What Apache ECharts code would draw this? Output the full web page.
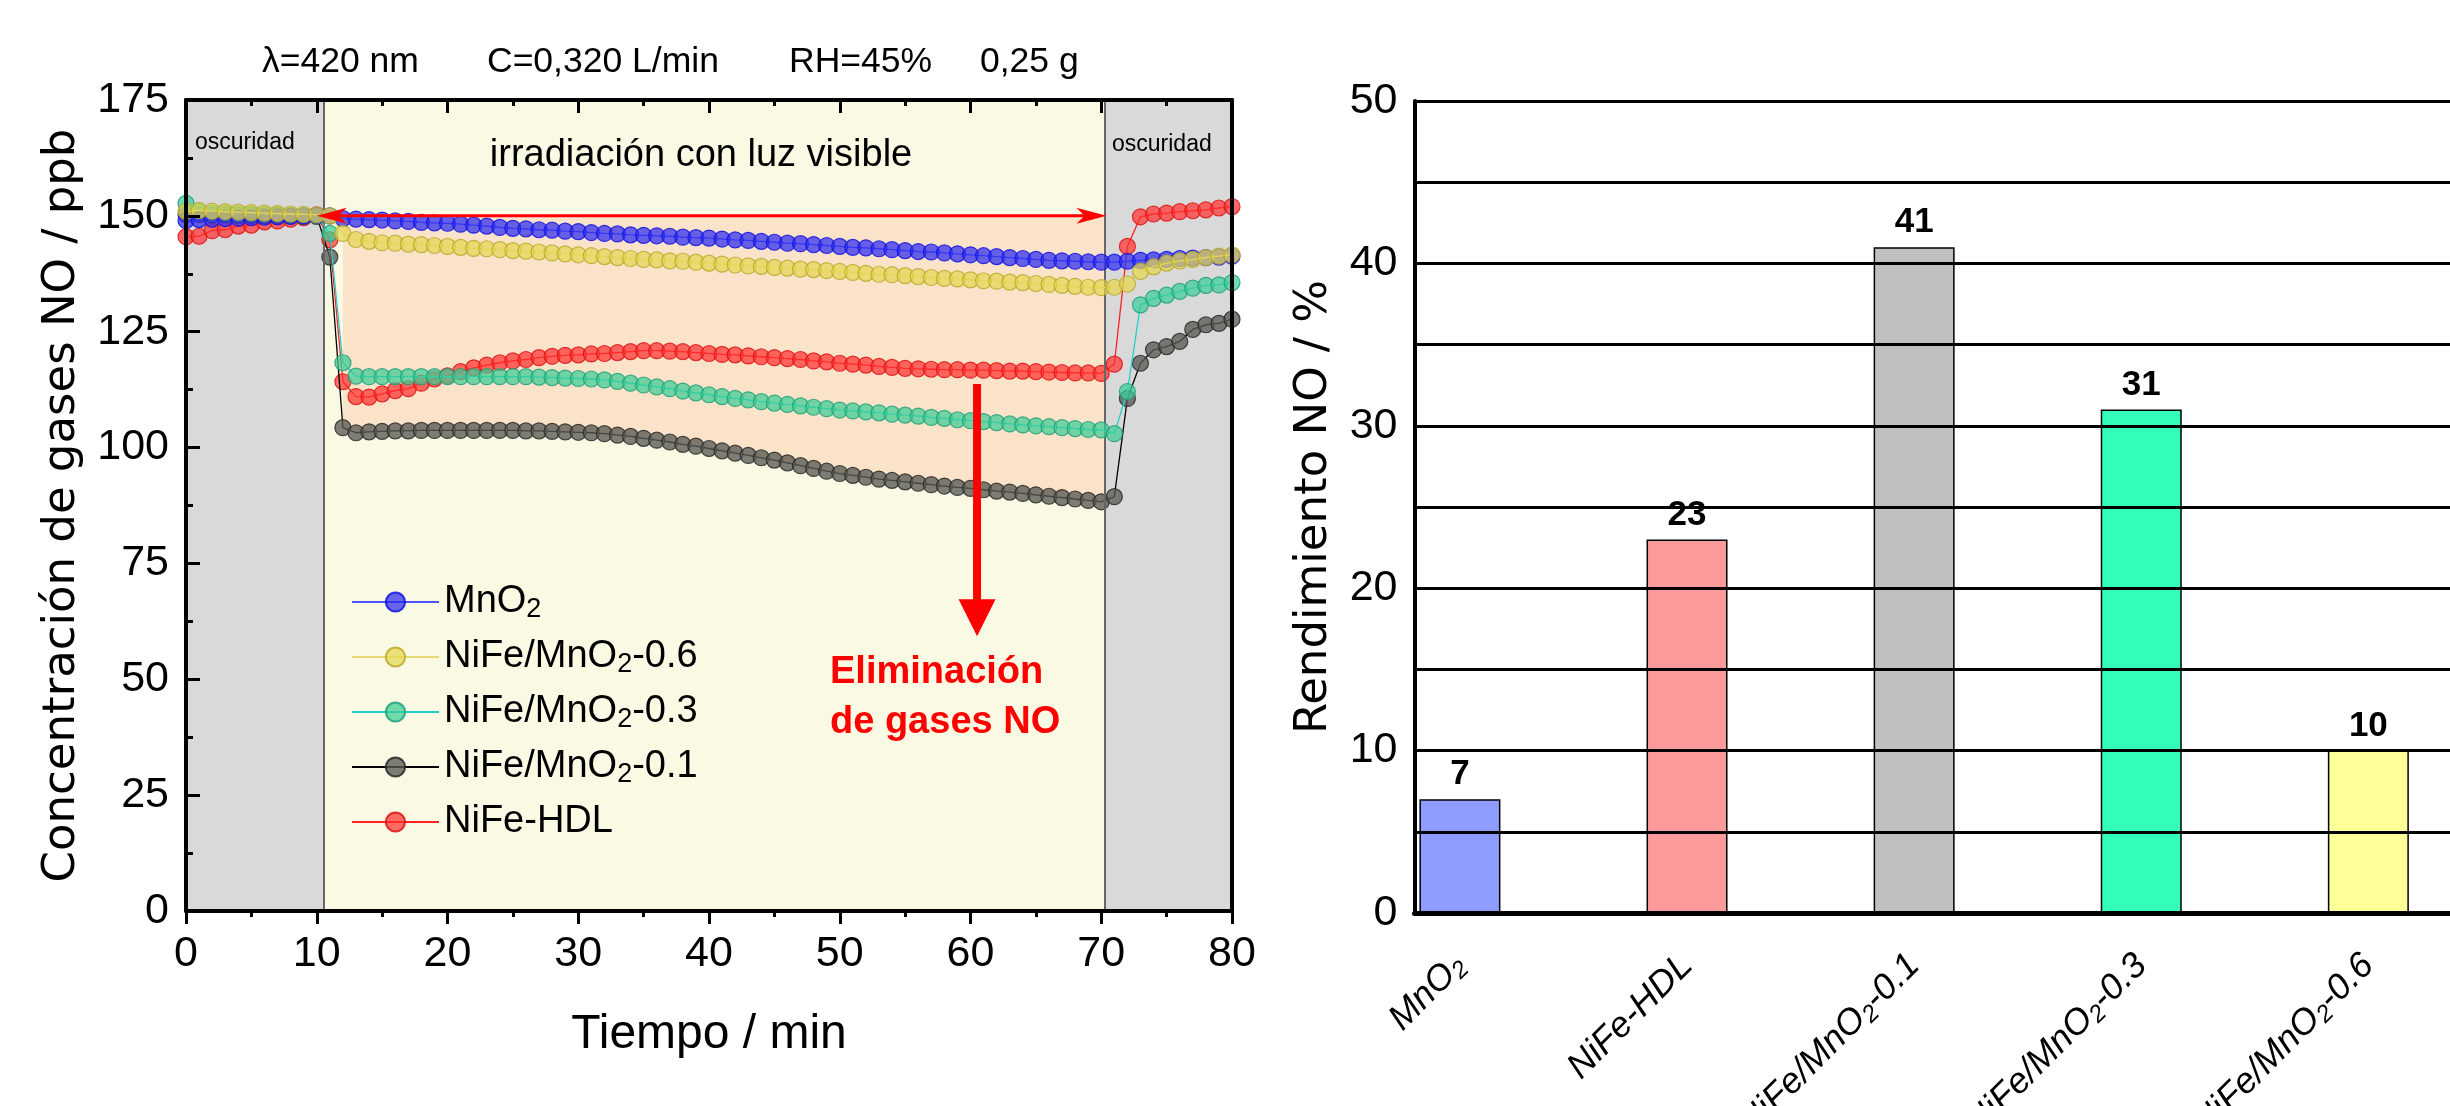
<!DOCTYPE html>
<html><head><meta charset="utf-8">
<script src="https://cdn.jsdelivr.net/npm/echarts@6/dist/echarts.min.js"></script>
<style>html,body{margin:0;padding:0;background:#fff}#c{width:2450px;height:1106px}</style>
</head><body><div id="c"></div>
<script>
// ---------- data ----------
const timeMin = [0,1,2,3,4,5,6,7,8,9,10,11,12,13,14,15,16,17,18,19,20,21,22,23,24,25,26,27,28,29,30,31,32,33,34,35,36,37,38,39,40,41,42,43,44,45,46,47,48,49,50,51,52,53,54,55,56,57,58,59,60,61,62,63,64,65,66,67,68,69,70,71,72,73,74,75,76,77,78,79,80];
const mno2 = [149.0,149.2,149.3,149.4,149.5,149.6,149.7,149.8,149.9,150.0,150.1,150.0,149.4,149.3,149.2,149.1,148.9,148.8,148.6,148.5,148.4,148.2,148.0,147.8,147.5,147.3,147.2,147.0,146.9,146.7,146.6,146.4,146.2,146.1,145.9,145.8,145.7,145.6,145.4,145.3,145.2,145.0,144.8,144.7,144.5,144.3,144.1,144.0,143.8,143.6,143.4,143.2,143.1,142.9,142.7,142.5,142.3,142.2,142.0,141.8,141.6,141.4,141.2,141.0,140.8,140.6,140.4,140.3,140.2,140.1,140.0,140.0,140.2,140.4,140.5,140.6,140.8,140.9,141.0,141.1,141.3];
const nife06 = [151.0,151.2,151.0,150.9,150.8,150.7,150.6,150.5,150.4,150.3,150.2,150.0,146.2,144.9,144.5,144.2,144.1,143.9,143.8,143.6,143.4,143.2,143.0,142.9,142.7,142.5,142.4,142.2,142.0,141.8,141.6,141.4,141.2,141.0,140.8,140.6,140.5,140.3,140.2,140.0,139.8,139.6,139.4,139.2,139.1,138.9,138.7,138.5,138.4,138.2,138.0,137.8,137.6,137.4,137.3,137.1,136.9,136.7,136.5,136.4,136.2,136.0,135.9,135.7,135.6,135.4,135.2,135.0,134.8,134.6,134.5,134.6,135.3,138.0,139.0,139.8,140.3,140.6,141.0,141.3,141.6];
const nife03 = [152.7,150.9,150.6,150.5,150.4,150.3,150.2,150.2,150.1,150.0,150.0,146.2,118.3,115.4,115.3,115.3,115.3,115.3,115.3,115.3,115.3,115.3,115.3,115.3,115.3,115.3,115.3,115.2,115.1,115.0,114.9,114.8,114.6,114.3,113.9,113.5,113.1,112.7,112.2,111.8,111.4,111.0,110.6,110.3,109.9,109.6,109.3,109.0,108.7,108.4,108.1,107.9,107.7,107.5,107.2,107.0,106.8,106.5,106.3,106.0,105.8,105.6,105.4,105.1,104.9,104.7,104.5,104.3,104.1,103.9,103.8,103.0,112.1,130.8,132.2,132.9,133.7,134.4,135.0,135.1,135.6];
const nife01 = [150.3,150.3,150.2,150.2,150.1,150.1,150.0,150.0,150.0,149.9,149.9,141.1,104.3,103.2,103.4,103.5,103.6,103.6,103.7,103.7,103.7,103.7,103.7,103.7,103.7,103.7,103.6,103.6,103.5,103.4,103.3,103.2,103.0,102.7,102.4,102.0,101.6,101.2,100.7,100.3,99.8,99.3,98.8,98.3,97.8,97.3,96.7,96.1,95.5,94.9,94.4,94.0,93.6,93.2,92.9,92.6,92.3,92.0,91.7,91.4,91.2,90.9,90.6,90.4,90.1,89.8,89.5,89.2,88.9,88.6,88.3,89.4,110.6,118.2,121.1,121.8,122.9,125.5,126.5,126.8,127.7];
const nifeHdl = [145.5,145.6,146.8,147.0,147.8,148.0,148.7,148.9,149.3,149.6,150.2,144.8,114.2,111.0,110.9,111.6,112.3,112.7,113.9,114.8,115.5,116.4,117.2,117.8,118.3,118.7,119.0,119.4,119.7,119.9,120.0,120.2,120.3,120.5,120.7,120.9,120.9,120.8,120.7,120.5,120.3,120.1,120.0,119.8,119.6,119.4,119.2,119.0,118.7,118.5,118.2,118.0,117.8,117.5,117.3,117.1,117.0,116.9,116.8,116.8,116.7,116.7,116.6,116.5,116.5,116.4,116.3,116.2,116.1,116.1,116.0,118.0,143.4,149.8,150.4,150.6,150.9,151.1,151.3,151.7,152.0];
const seriesNames = ['MnO2','NiFe/MnO2-0.6','NiFe/MnO2-0.3','NiFe/MnO2-0.1','NiFe-HDL'];

const barCategories = ['MnO2','NiFe-HDL','NiFe/MnO2-0.1','NiFe/MnO2-0.3','NiFe/MnO2-0.6'];
const barValues = [7,23,41,31,10];

const xTicksLeft = [0,10,20,30,40,50,60,70,80];
const yTicksLeft = [0,25,50,75,100,125,150,175];
const yTicksRight = [0,10,20,30,40,50];

// annotation levels (minutes / ppb)
const darkEnd = 10.5, lightEnd = 70.26, peachTop = 150, peachFrom = 12, peachTo = 70;

// ---------- styles ----------
const seriesStyle = {
  'MnO2':          {line:'#5050ff', fill:'rgba(45,45,240,0.72)',  border:'rgba(20,20,225,0.85)', z:6},
  'NiFe/MnO2-0.6': {line:'#e6dc70', fill:'rgba(228,214,80,0.70)', border:'rgba(185,170,40,0.85)', z:7},
  'NiFe/MnO2-0.3': {line:'#20d0d0', fill:'rgba(60,205,150,0.72)', border:'rgba(30,160,120,0.85)', z:5},
  'NiFe/MnO2-0.1': {line:'#000000', fill:'rgba(90,90,85,0.78)',   border:'rgba(40,40,40,0.85)', z:4},
  'NiFe-HDL':      {line:'#ff2020', fill:'rgba(255,50,50,0.72)',  border:'rgba(220,20,20,0.85)', z:3}
};
const barColors = ['#8f9cff','#fa9a9a','#c0c0c0','#33ffbb','#ffff99'];
const FONT = 'Liberation Sans';

function richName(name){
  return name.split('MnO2').map(s => s ? '{a|' + s + '}' : '').join('{a|MnO}{s|2}');
}

const seriesArrays = [mno2, nife06, nife03, nife01, nifeHdl];
const pairs = arr => timeMin.map((t, i) => [t, arr[i]]);

const peachIdx = timeMin.map((t,i)=>i).filter(i => timeMin[i] >= peachFrom && timeMin[i] <= peachTo);
const peachLower = peachIdx.map(i => [timeMin[i], nife01[i]]);

const chart = echarts.init(document.getElementById('c'), null, {renderer:'canvas', width:2450, height:1106});

const axisBlack = {onZero:false, lineStyle:{color:'#000', width:4}};

const option = {
  animation:false,
  textStyle:{fontFamily:FONT},
  grid:[
    {left:186, top:100, width:1046, height:811, outerBoundsMode:'none', containLabel:false},
    {left:1414.5, top:101, width:1044.7, height:812, outerBoundsMode:'none', containLabel:false}
  ],
  legend:{
    data:seriesNames, orient:'vertical', left:346, top:578,
    itemWidth:87, itemHeight:24, itemGap:15,
    formatter: n => richName(n),
    textStyle:{fontFamily:FONT, fontSize:38, color:'#000',
      rich:{a:{fontFamily:FONT, fontSize:38, lineHeight:42, color:'#000'},
            s:{fontFamily:FONT, fontSize:27, lineHeight:20, verticalAlign:'bottom', color:'#000'}}},
    selectedMode:false
  },
  xAxis:[
    {gridIndex:0, type:'value', position:'bottom', min:0, max:80, interval:10, z:10,
     axisLine:axisBlack, axisTick:{show:true, inside:false, length:13, lineStyle:{width:3,color:'#000'}},
     minorTick:{show:true, splitNumber:2, length:6, lineStyle:{width:3,color:'#000'}},
     splitLine:{show:false},
     axisLabel:{fontSize:43, color:'#000', margin:22, fontFamily:FONT},
     name:'Tiempo / min', nameLocation:'middle', nameGap:100,
     nameTextStyle:{fontSize:48, color:'#000', fontFamily:FONT}},
    {gridIndex:0, type:'value', position:'top', min:0, max:80, interval:10, z:10,
     axisLine:axisBlack, axisTick:{show:true, inside:true, length:13, lineStyle:{width:3,color:'#000'}},
     minorTick:{show:true, splitNumber:2, length:6, lineStyle:{width:3,color:'#000'}},
     splitLine:{show:false}, axisLabel:{show:false}},
    {gridIndex:1, type:'value', position:'bottom', min:-0.2, max:4.4, z:10,
     axisLine:{onZero:false, lineStyle:{color:'#000', width:5}}, axisTick:{show:false},
     splitLine:{show:false},
     axisLabel:{customValues:[0,1,2,3,4], rotate:45, margin:47, hideOverlap:false,
       formatter: v => richName(barCategories[Math.round(v)]),
       fontSize:36, fontStyle:'italic', color:'#000', fontFamily:FONT,
       rich:{a:{fontFamily:FONT, fontSize:36, fontStyle:'italic', color:'#000', lineHeight:40},
             s:{fontFamily:FONT, fontSize:24, fontStyle:'italic', color:'#000', lineHeight:18, verticalAlign:'bottom'}}}}
  ],
  yAxis:[
    {gridIndex:0, type:'value', position:'left', min:0, max:175, interval:25, z:10,
     axisLine:{show:true, onZero:false, lineStyle:{color:'#000', width:4}},
     axisTick:{show:true, inside:true, length:14, lineStyle:{width:3,color:'#000'}},
     minorTick:{show:true, splitNumber:2, length:7, lineStyle:{width:3,color:'#000'}},
     splitLine:{show:false},
     axisLabel:{fontSize:43, color:'#000', margin:17, fontFamily:FONT},
     name:'Concentración de gases NO / ppb', nameLocation:'middle', nameGap:101,
     nameTextStyle:{fontFamily:'DejaVu Sans', fontSize:45, color:'#000'}},
    {gridIndex:0, type:'value', position:'right', min:0, max:175, z:10,
     axisLine:{show:true, onZero:false, lineStyle:{color:'#000', width:4}},
     axisTick:{show:false}, axisLabel:{show:false}, splitLine:{show:false}},
    {gridIndex:1, type:'value', position:'left', min:0, max:50, interval:5, z:10,
     axisLine:{show:true, onZero:false, lineStyle:{color:'#000', width:4}},
     axisTick:{show:false},
     splitLine:{show:true, lineStyle:{color:'#000', width:3}},
     axisLabel:{fontSize:43, color:'#000', margin:17, fontFamily:FONT,
       formatter: v => (v % 10 === 0 ? String(v) : '')},
     name:'Rendimiento NO / %', nameLocation:'middle', nameGap:78,
     nameTextStyle:{fontFamily:'DejaVu Sans', fontSize:45, color:'#000'}}
  ],
  series:[
    {name:'_regions', type:'line', xAxisIndex:0, yAxisIndex:0, z:1,
     data:peachLower, symbol:'none', lineStyle:{opacity:0}, silent:true,
     markArea:{silent:true, data:[
       [{xAxis:0, itemStyle:{color:'#d9d9d9'}}, {xAxis:darkEnd}],
       [{xAxis:darkEnd, itemStyle:{color:'#fafae4'}}, {xAxis:lightEnd}],
       [{xAxis:lightEnd, itemStyle:{color:'#d9d9d9'}}, {xAxis:80}]
     ]},
     markLine:{silent:true, symbol:'none', label:{show:false},
       lineStyle:{color:'#666', width:2, type:'solid'},
       data:[{xAxis:darkEnd}, {xAxis:lightEnd}]}},
    {name:'_peach', type:'custom', xAxisIndex:0, yAxisIndex:0, z:2, silent:true,
     data:[[peachFrom, peachTop]],
     renderItem:(params, api) => {
       const pts = [[peachLower[0][0], peachTop], [lightEnd, peachTop], [lightEnd, peachLower[peachLower.length-1][1]]]
         .concat(peachLower.slice().reverse());
       return {type:'polygon', shape:{points:pts.map(p => api.coord(p))}, style:{fill:'#fbe3c9'}};
     }}
  ].concat(seriesNames.map((n, k) => ({
     name:n, type:'line', xAxisIndex:0, yAxisIndex:0, z:seriesStyle[n].z,
     data:pairs(seriesArrays[k]), symbol:'circle', symbolSize:16,
     lineStyle:{color:seriesStyle[n].line, width:1.3},
     itemStyle:{color:seriesStyle[n].fill, borderColor:seriesStyle[n].border, borderWidth:1.2},
     emphasis:{disabled:true}
  }))).concat([
    {name:'_bars', type:'bar', xAxisIndex:2, yAxisIndex:2, barWidth:81, z:3,
     data:barValues.map((v,i) => ({value:[i, v], itemStyle:{color:barColors[i]}})),
     itemStyle:{borderColor:'#000', borderWidth:1.5},
     label:{show:true, position:'top', distance:7, fontSize:35, fontWeight:'bold', color:'#000', fontFamily:FONT,
       formatter: p => String(p.value[1])},
     emphasis:{disabled:true}}
  ])
};
chart.setOption(option);

// ---------- annotations (arrows, texts) ----------
const P = (x, y) => chart.convertToPixel({seriesIndex:2}, [x, y]);
const hA = P(10.0, peachTop), hB = P(70.4, peachTop);
const vA = P(60.5, 113.7), vB = P(60.5, 59.3);
const red = '#ff0000';
const ah = 30, aw = 8, notch = 22;
const g = [];
g.push({type:'line', z:100, shape:{x1:hA[0]+notch, y1:hA[1], x2:hB[0]-notch, y2:hB[1]}, style:{stroke:red, lineWidth:3}});
g.push({type:'polygon', z:100, shape:{points:[[hA[0],hA[1]],[hA[0]+ah,hA[1]-aw],[hA[0]+notch,hA[1]],[hA[0]+ah,hA[1]+aw]]}, style:{fill:red}});
g.push({type:'polygon', z:100, shape:{points:[[hB[0],hB[1]],[hB[0]-ah,hB[1]-aw],[hB[0]-notch,hB[1]],[hB[0]-ah,hB[1]+aw]]}, style:{fill:red}});
g.push({type:'line', z:100, shape:{x1:vA[0], y1:vA[1], x2:vB[0], y2:vB[1]-30}, style:{stroke:red, lineWidth:8}});
g.push({type:'polygon', z:100, shape:{points:[[vB[0]-18.5,vB[1]-37],[vB[0]+18.5,vB[1]-37],[vB[0],vB[1]]]}, style:{fill:red}});

const txt = (text, x, y, size, opts) => Object.assign({type:'text', z:100, x:x, y:y,
  style:Object.assign({text:text, fontFamily:FONT, fontSize:size, fill:'#000', textVerticalAlign:'middle', textAlign:'left'}, opts || {})});
g.push(txt('oscuridad', 195, 143, 23));
g.push(txt('oscuridad', 1112, 145, 23));
g.push(txt('irradiación con luz visible', 701, 156, 38, {textAlign:'center'}));
g.push(txt('Eliminación', 830, 673, 38, {fill:red, fontWeight:'bold'}));
g.push(txt('de gases NO', 830, 723, 38, {fill:red, fontWeight:'bold'}));
g.push(txt('λ=420 nm', 262, 62, 35.5));
g.push(txt('C=0,320 L/min', 487, 62, 35.5));
g.push(txt('RH=45%', 789, 62, 35.5));
g.push(txt('0,25 g', 980, 62, 35.5));
chart.setOption({graphic:g});
</script>
</body></html>
